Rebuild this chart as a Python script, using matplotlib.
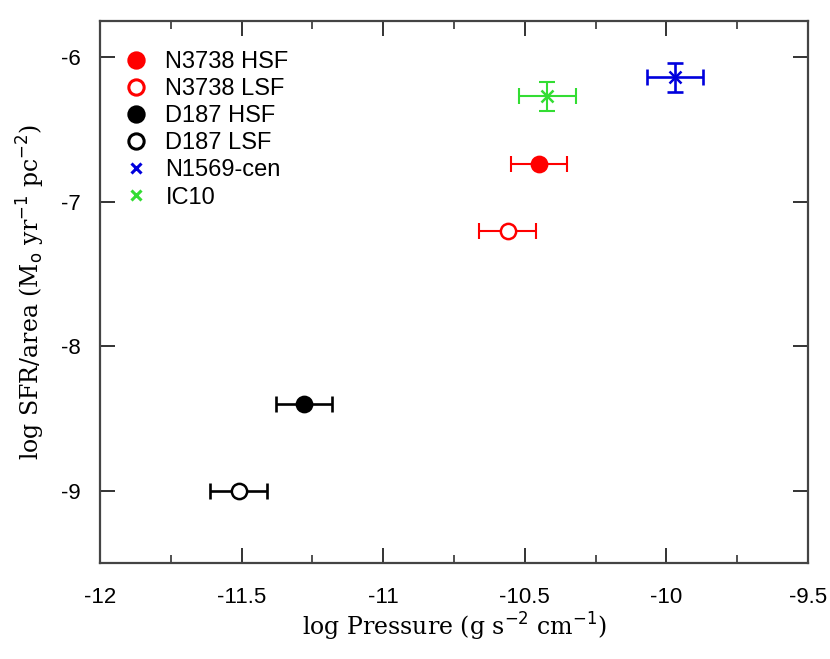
import matplotlib.pyplot as plt
from matplotlib.lines import Line2D
from matplotlib.ticker import MultipleLocator

# data
names = ['N3738 HSF', 'N3738 LSF', 'D187 HSF', 'D187 LSF', 'N1569-cen', 'IC10']
log_p = [-10.45, -10.56, -11.28, -11.51, -9.97, -10.42]
log_sfr = [-6.74, -7.20, -8.40, -9.00, -6.14, -6.27]
p_err = [0.10, 0.10, 0.10, 0.10, 0.10, 0.10]
sfr_err = [0, 0, 0, 0, 0.10, 0.10]

colors = ['#ff0000', '#ff0000', '#000000', '#000000', '#0000dd', '#33dd33']
markers = ['o', 'o', 'o', 'o', 'x', 'x']
filled = [True, False, True, False, True, True]

xticks = [-12, -11.5, -11, -10.5, -10, -9.5]
yticks = [-9, -8, -7, -6]

fig = plt.figure(figsize=(8.3, 6.59), dpi=100)
ax = fig.add_axes([0.1205, 0.1457, 0.853, 0.8224])

handles = []
for i in range(len(names)):
    yerr = sfr_err[i] if sfr_err[i] > 0 else None
    fc = colors[i] if filled[i] else 'white'
    ms = 9 if markers[i] == 'x' else 11
    lw = 1.9 if colors[i] in ('#0000dd', '#000000') else 1.5
    ax.errorbar(log_p[i], log_sfr[i], xerr=p_err[i], yerr=yerr,
                fmt='none', ecolor=colors[i], elinewidth=lw,
                capsize=5.5, capthick=lw, zorder=2)
    ax.plot(log_p[i], log_sfr[i], linestyle='none', marker=markers[i],
            ms=ms, mfc=fc, mec=colors[i], mew=1.8, zorder=3)
    handles.append(Line2D([], [], linestyle='none', marker=markers[i],
                          ms=ms if markers[i] == 'o' else 7, mfc=fc,
                          mec=colors[i], mew=2.2, label=names[i]))

ax.set_xlim(-12, -9.5)
ax.set_ylim(-9.5, -5.75)
ax.xaxis.set_minor_locator(MultipleLocator(0.25))
ax.set_xticks(xticks)
ax.set_xticklabels([f'{t:g}' for t in xticks])
ax.set_yticks(yticks)
ax.set_yticklabels([f'{t:g}' for t in yticks])

ax.tick_params(which='both', direction='in', top=True, right=True,
               colors='#333333', labelcolor='black', labelsize=16,
               labelfontfamily='Liberation Sans')
ax.tick_params(axis='x', which='major', length=10.5, width=1.4, pad=17)
ax.tick_params(axis='y', which='major', length=10.5, width=1.4, pad=14)
ax.tick_params(which='minor', length=5.5, width=1.2)
for s in ax.spines.values():
    s.set_color('#444444')
    s.set_linewidth(1.6)

ax.set_xlabel('log Pressure (g s$^{-2}$ cm$^{-1}$)', fontsize=17,
              family='DejaVu Serif', labelpad=2)
ax.set_ylabel('log SFR/area (M$_{\\rm o}$ yr$^{-1}$ pc$^{-2}$)', fontsize=17,
              family='DejaVu Serif', labelpad=10)

leg = ax.legend(handles=handles, loc='upper left', frameon=False,
                prop={'family': 'Liberation Sans', 'size': 17},
                handlelength=0.8, handletextpad=0.83, labelspacing=0.215,
                borderaxespad=0.2, bbox_to_anchor=(0.018, 0.9705))

fig.savefig('out.png', dpi=100)
